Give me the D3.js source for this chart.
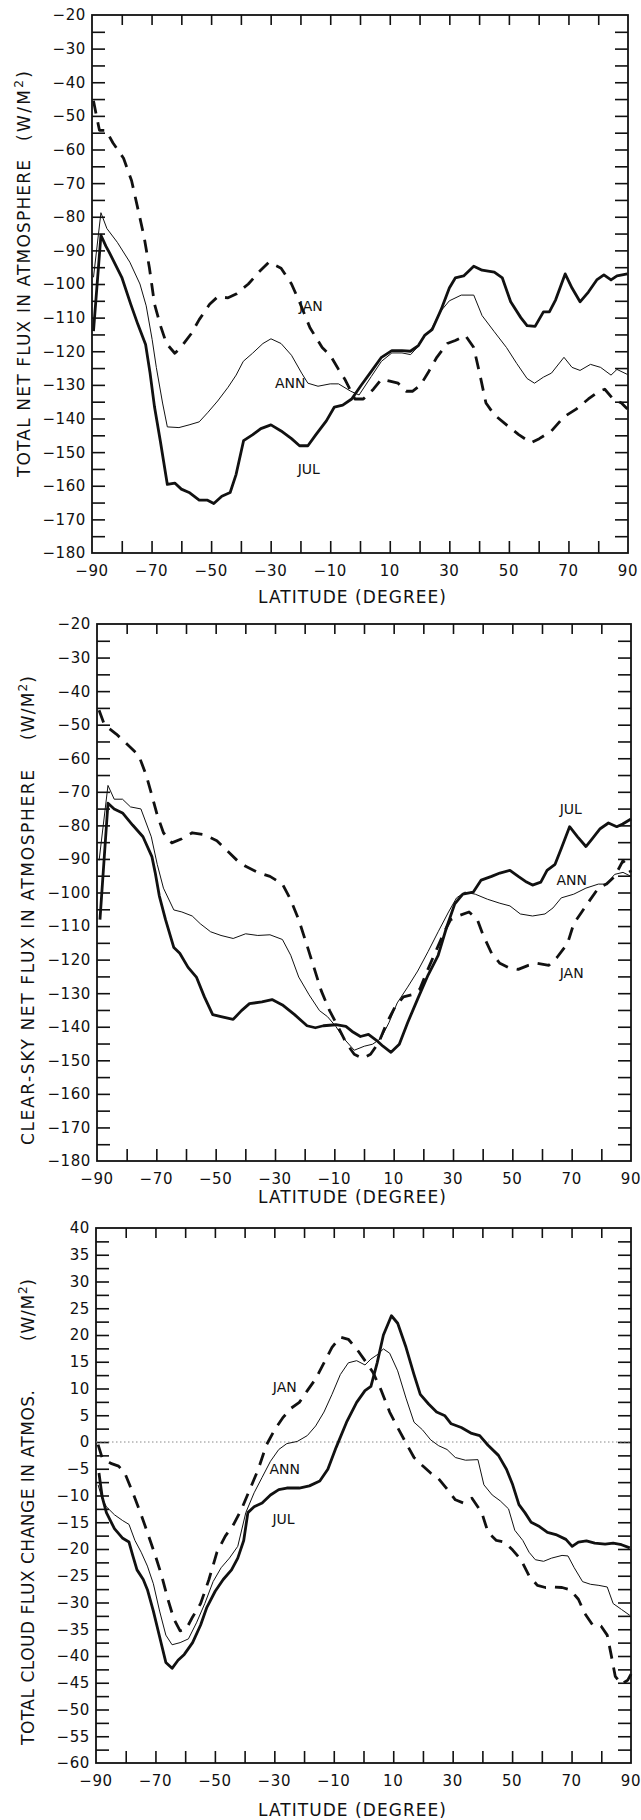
<!DOCTYPE html>
<html>
<head>
<meta charset="utf-8">
<script src="https://cdn.jsdelivr.net/npm/d3@7"></script>
<style>
  html, body { margin: 0; padding: 0; background: #fff; }
  svg { display: block; }
</style>
</head>
<body>
<svg id="fig" width="641" height="1820"></svg>
<script>
// ---------- axis tick values ----------
const latLabels = [-90, -70, -50, -30, -10, 10, 30, 50, 70, 90];
const netFluxLabels = [-20, -30, -40, -50, -60, -70, -80, -90, -100, -110, -120, -130, -140, -150, -160, -170, -180];
const cloudLabels = [40, 35, 30, 25, 20, 15, 10, 5, 0, -5, -10, -15, -20, -25, -30, -35, -40, -45, -50, -55, -60];

// ---------- total net flux in atmosphere: [latitude, W/m2] ----------
const totalJul = [[-89.5,-114],[-87,-85.5],[-85.3,-88.8],[-84.2,-90.6],[-80,-98],[-77,-106],[-74.6,-112],[-72,-118],[-70.5,-126.5],[-69,-136.6],[-67,-147],[-64.7,-159.6],[-62.2,-159.2],[-60,-161],[-57.4,-162],[-54,-164.3],[-51.2,-164.3],[-49.1,-165.3],[-46.4,-163.1],[-43.6,-162],[-41.6,-156.6],[-39.1,-146.6],[-36,-144.8],[-33.3,-143],[-29.9,-141.9],[-26.5,-143.7],[-23,-146],[-20.3,-148.1],[-17.5,-148.1],[-14.8,-144.8],[-11.3,-140.7],[-8.6,-136.6],[-5.8,-136],[-2.8,-134.2],[0.4,-130.1],[3.8,-126],[7.2,-121.8],[10.7,-119.8],[14.1,-119.8],[16.9,-120],[19.6,-118.3],[21.7,-115.3],[24.2,-113.6],[27.2,-107.7],[30,-101.2],[32,-98.2],[34.8,-97.6],[38.2,-94.7],[41,-95.9],[45.1,-96.5],[47.8,-98.2],[50.6,-105.3],[54,-110],[56.1,-112.4],[58.8,-112.6],[61.6,-108.3],[63.6,-108.3],[65.7,-104.7],[68.9,-97],[71.2,-101.2],[73.9,-105.3],[76.7,-102.4],[79.5,-98.8],[81.9,-97.3],[84.3,-98.8],[86.3,-97.6],[89.8,-97]];
const totalAnn = [[-89.5,-98],[-87,-78.8],[-85,-83.5],[-81.5,-87.6],[-77.3,-93.5],[-73.9,-100],[-71.8,-106.5],[-69.8,-116.5],[-68.4,-124.8],[-66.3,-135.4],[-64.7,-142.5],[-60.8,-142.7],[-57.4,-141.9],[-54,-141],[-51.2,-138.3],[-47.8,-134.8],[-44.3,-130.7],[-41.6,-127.1],[-39.2,-123],[-36.1,-120.6],[-32.6,-117.7],[-29.9,-116.3],[-26.5,-117.7],[-23,-121.2],[-19.6,-126.5],[-17.5,-129.5],[-14.1,-130.4],[-10,-129.7],[-7.2,-129.7],[-3.1,-131.9],[-0.3,-133],[3.8,-127.5],[7.2,-123],[10.7,-120.5],[14.1,-120.5],[17,-121],[19.6,-118.5],[21.7,-115.5],[24.2,-113],[27.2,-108],[30,-105],[34,-103.3],[38.2,-103.3],[41,-109.4],[45.1,-114.2],[49.2,-118.9],[52.6,-123.6],[56.1,-128.1],[58.6,-129.5],[61.6,-127.7],[64.3,-126.5],[68.5,-121.8],[71.2,-124.8],[73.9,-125.7],[77.4,-123.9],[80.8,-124.8],[84.3,-127.1],[86.3,-125.4],[89.8,-126.9]];
const totalJan = [[-89.5,-45.5],[-88.5,-50],[-87.5,-54.3],[-85.3,-54.3],[-83,-58],[-79.4,-62.6],[-76.7,-69.3],[-74.6,-77.6],[-72.5,-86],[-70.7,-95.3],[-69,-106],[-67,-112.4],[-65,-117.7],[-62.2,-120.6],[-60.2,-118.9],[-56.7,-114.8],[-54,-110.6],[-50.5,-106],[-47.8,-103.8],[-44.3,-104.1],[-41.6,-103],[-37.5,-100],[-34,-96.5],[-30.6,-93.5],[-26.5,-95.3],[-23,-100],[-20,-106],[-16.8,-113],[-12.7,-118.9],[-10,-121.2],[-7.2,-125.4],[-5.1,-128.3],[-1.7,-134.2],[1.1,-134.2],[4.5,-131.3],[7.2,-128.3],[10,-128.9],[12.8,-129.5],[15.5,-131.9],[17.6,-131.9],[20.3,-130.1],[23.1,-126],[25.8,-121.8],[29.3,-117.7],[32,-116.8],[35.4,-115.3],[38.2,-118.9],[40.3,-127.1],[42.3,-135.4],[45.1,-138.9],[49.2,-141.9],[53.3,-144.8],[57.4,-147.2],[60.2,-146],[64.3,-143.7],[68.5,-139.5],[72.6,-137.2],[76.7,-134.2],[80.2,-131.9],[82.2,-131.3],[85,-134.2],[87.8,-135.4],[89.8,-137.2]];

// ---------- clear-sky net flux in atmosphere ----------
const clearJul = [[-89,-108.1],[-86.3,-73.4],[-84.2,-75.1],[-81.4,-76.3],[-78,-79.9],[-74.5,-83.4],[-71.5,-89.3],[-70.4,-94],[-69,-101],[-66.9,-108.1],[-64.1,-116.4],[-62.1,-118.1],[-59.3,-122.3],[-56.5,-125.2],[-53.8,-131.1],[-51,-136.4],[-48.2,-137],[-44.1,-137.8],[-41.3,-135.2],[-38.6,-133.1],[-34.4,-132.6],[-31,-131.9],[-27.5,-133.5],[-23.4,-136.4],[-19.2,-139.7],[-16.4,-140.3],[-13.7,-139.7],[-9.5,-139.4],[-6.1,-139.9],[-4,-141.4],[-1.2,-142.9],[1.5,-142.3],[4.3,-144.1],[6.4,-145.8],[9.1,-147.6],[11.9,-145.2],[14.7,-138.8],[18.1,-131.7],[21.6,-124.6],[25,-118.7],[27.8,-110.5],[30.6,-103.4],[33.3,-100.5],[36.8,-99.9],[39.5,-96.3],[43,-95.2],[45.8,-94.2],[49.2,-93.4],[52,-95.2],[54.8,-96.9],[56.8,-97.8],[59.6,-96.9],[61.7,-93.4],[64.4,-91.6],[66.5,-86.9],[69.3,-80.4],[72,-83.4],[74.8,-86.3],[76.9,-84],[79.6,-81],[82.4,-79.3],[85.2,-80.4],[87.2,-79.6],[90,-78.1]];
const clearAnn = [[-89.3,-90.5],[-86.3,-68.1],[-84.2,-72.2],[-81.4,-72.2],[-78.7,-74.5],[-75.2,-75.1],[-71.7,-83.4],[-69.7,-91.6],[-67.6,-98.7],[-64.1,-105.2],[-61.4,-105.8],[-57.9,-107],[-55.2,-109.3],[-51.7,-111.7],[-48.2,-112.8],[-44.1,-113.7],[-39.9,-112.3],[-35.8,-112.8],[-31.7,-112.6],[-27.5,-114],[-24.7,-118.7],[-22,-125.2],[-18.5,-130.5],[-15,-135.2],[-12.3,-137],[-9.5,-139.9],[-6.8,-143.5],[-3.3,-147],[0.1,-145.8],[2.9,-145.2],[5.7,-143.5],[8.4,-138.8],[11.2,-132.9],[14.7,-128.2],[18.1,-123.4],[21.6,-117.6],[25,-111.7],[28.5,-105.8],[31.2,-101.6],[34,-99.9],[37.5,-100.5],[41.6,-102],[45.8,-103.2],[49.2,-104],[52.7,-106.4],[56.8,-107],[61,-106.4],[63.7,-104.6],[66.5,-101.6],[70.7,-100.5],[74.8,-98.7],[79,-97.5],[81.7,-97.5],[84.5,-94.6],[87.3,-94],[90,-95.2]];
const clearJan = [[-89.3,-45.7],[-87.5,-50],[-83.5,-52.8],[-81.4,-54.5],[-75.9,-59.2],[-73.4,-65.1],[-71.7,-70.4],[-69.7,-76.9],[-67.6,-82.2],[-64.8,-85.2],[-61.4,-84],[-57.9,-82.2],[-53.8,-82.8],[-49.6,-84.6],[-45.5,-88.1],[-42.7,-90.5],[-39.9,-92.2],[-35.8,-94],[-31.7,-95.2],[-27.5,-97.5],[-24.7,-102.2],[-22,-108.1],[-19.2,-115.8],[-17.1,-121.7],[-14.4,-129.3],[-11.6,-135.2],[-8.8,-139.9],[-6.1,-144.7],[-3.3,-148.2],[-0.5,-149.4],[2.2,-148.2],[5,-144.7],[7.7,-138.8],[10.5,-134],[13.3,-131.1],[16,-130.5],[18.8,-128.8],[21,-124],[23.6,-118.7],[27.1,-111.7],[29.2,-108.1],[32,-106.9],[35.4,-105.8],[38.2,-108.1],[40.2,-112.8],[43,-118.1],[45.8,-121.1],[48.5,-122.3],[52,-122.9],[55.4,-121.7],[58.2,-121.1],[62.3,-121.7],[65.1,-119.3],[68.6,-115.2],[70.7,-109.3],[73.4,-105.8],[76.2,-102.2],[79,-98.7],[81.7,-97.5],[84.5,-95.2],[87.3,-90.5],[90,-94]];

// ---------- total cloud flux change in atmosphere ----------
const cloudJul = [[-89,-5.8],[-87.9,-10.3],[-86.5,-13.2],[-83.8,-16.2],[-81,-18],[-78.9,-18.7],[-77.6,-21.3],[-76.2,-23.9],[-74.1,-25.7],[-72.7,-27.6],[-70.7,-31.6],[-68.6,-36.4],[-66.5,-41.2],[-64.4,-42.3],[-62.4,-40.8],[-60.3,-39.7],[-57.5,-37.5],[-54.8,-34.2],[-52.7,-30.9],[-49.9,-27.9],[-47.2,-25.7],[-44.4,-23.9],[-42.3,-21.7],[-40.3,-18.4],[-38.9,-13.2],[-36.8,-12.1],[-34.1,-11.4],[-31.3,-9.9],[-28.5,-8.9],[-25.8,-8.6],[-21.6,-8.6],[-18.2,-8.2],[-14.7,-7.3],[-12,-5.1],[-9.2,-1],[-5.7,3.7],[-2.3,7.4],[0.5,9.6],[2.5,10.4],[4.6,14.8],[6.7,20],[9.4,23.6],[11.5,22.2],[14.3,17.7],[17,12.6],[19.1,8.9],[21.9,7.1],[24.6,5.6],[27.4,4.9],[29.5,3.4],[32.9,2.7],[36.4,1.6],[39.1,1.2],[41.9,-0.6],[45.4,-2.5],[48.1,-5.1],[50.2,-8],[52.3,-11.7],[54.3,-13.2],[56.4,-15],[59.2,-15.8],[61.9,-16.9],[64.7,-17.3],[68.1,-18.2],[70.2,-19.5],[72.3,-18.7],[75,-18.5],[77.8,-18.9],[81.3,-19.1],[84,-18.9],[86.8,-19.2],[89.6,-19.8]];
const cloudAnn = [[-89.3,-8],[-88,-10.5],[-86.5,-12.1],[-83.8,-13.6],[-81,-14.7],[-78.9,-15.4],[-76.9,-18.4],[-74.8,-20.6],[-72.7,-23.2],[-70.7,-26.5],[-68.6,-31.6],[-66.5,-36.1],[-64.4,-37.9],[-61.7,-37.5],[-58.9,-36.8],[-56.2,-33.8],[-53.4,-30.2],[-50.6,-26.1],[-47.9,-23.5],[-45.1,-21.7],[-42.3,-19.5],[-39.6,-13.2],[-36.8,-9.5],[-34.1,-6.6],[-31.3,-3.6],[-28.5,-1.4],[-25.8,-0.3],[-22.3,0.1],[-18.9,1.2],[-16.1,3],[-13.3,5.6],[-10.6,8.9],[-7.8,12.6],[-5.1,14.8],[-2.3,15.2],[0.5,14.4],[2.5,15.5],[4.6,16.3],[6.7,17.4],[8.8,16.6],[11.5,13.3],[14.3,8.2],[17,3.7],[19.8,2.3],[22.6,0.4],[25.3,-0.7],[28.1,-1.4],[30.9,-2.9],[34.3,-3.4],[38.5,-3.3],[40.5,-8],[43.3,-9.9],[46,-11],[48.8,-12.5],[50.9,-16.5],[53.6,-18.4],[55.7,-20.6],[57.8,-22],[60.6,-22.3],[63.3,-21.7],[66.8,-21.2],[68.8,-21.3],[70.9,-23.5],[73.7,-26.1],[76.4,-26.6],[79.2,-26.8],[82,-27.1],[84,-30.2],[86.8,-31.3],[89.6,-32.4]];
const cloudJan = [[-89.3,-0.5],[-87.9,-3],[-85,-4],[-82.4,-4.5],[-80.3,-5.8],[-77.6,-9.5],[-74.8,-13.6],[-72.7,-16.9],[-70,-21.3],[-67.9,-25],[-65.8,-29.4],[-63.8,-33.1],[-61.7,-35.3],[-59.6,-34.9],[-57.5,-32.7],[-54.8,-30.2],[-52,-25.7],[-49.3,-20.6],[-46.5,-17.6],[-43.7,-15.4],[-41,-12.5],[-38.2,-8.8],[-35.4,-5.1],[-32.7,-0.6],[-29.9,2.3],[-27.2,4.5],[-24.4,6.3],[-21.6,7.4],[-18.9,9.6],[-16.1,11.8],[-13.3,14.8],[-10.6,17.7],[-7.8,19.6],[-5.1,19.2],[-2.3,17.4],[0.5,15.2],[3.2,13],[6,9.6],[8.8,5.6],[11.5,2.7],[14.3,-0.2],[17,-2.9],[19.8,-4.4],[22.6,-5.8],[25.3,-6.9],[28.1,-8.8],[30.9,-10.8],[33.6,-11.4],[36.5,-10.5],[39.8,-13.2],[41.9,-16.9],[44.7,-18.4],[47.4,-18.7],[50.2,-20.2],[53,-22],[55.7,-25],[58.5,-26.8],[61.2,-27.2],[64,-27.1],[66.8,-27.2],[69.5,-27.6],[72.3,-29.4],[74.4,-32],[77.1,-34.2],[79.9,-34.4],[82,-36.1],[83.3,-39.7],[84.7,-43.8],[86.8,-45.3],[88.9,-44.5],[90,-43.4]];

// ---------- drawing ----------
const FONT = "'DejaVu Sans', 'Liberation Sans', sans-serif";
const INK = "#111";
const svg = d3.select("#fig");

const styles = {
  jul: { width: 2.8, dash: null },
  ann: { width: 1.0, dash: null },
  jan: { width: 2.8, dash: "13,9" }
};

const panels = [
  {
    box: { l: 92, r: 628, t: 15, b: 553 },
    yDomain: [-180, -20], yLabels: netFluxLabels, yTickStep: 5,
    title: "TOTAL NET FLUX IN ATMOSPHERE", titleSpan: [477, 317], unitSpan: [141, 70], titleX: 30,
    xTitleY: 603,
    series: { ann: totalAnn, jul: totalJul, jan: totalJan },
    notes: [["JAN", -16.5, -106.5], ["ANN", -23.4, -129.5], ["JUL", -17.2, -154.9]],
    zero: false
  },
  {
    box: { l: 97, r: 631, t: 624, b: 1161 },
    yDomain: [-180, -20], yLabels: netFluxLabels, yTickStep: 5,
    title: "CLEAR-SKY NET FLUX IN ATMOSPHERE", titleSpan: [1145, 375], unitSpan: [740, 64], titleX: 34,
    xTitleY: 1203,
    series: { ann: clearAnn, jul: clearJul, jan: clearJan },
    notes: [["JUL", 69.7, -75.1], ["ANN", 70, -96.3], ["JAN", 70, -124]],
    zero: false
  },
  {
    box: { l: 96, r: 631, t: 1228, b: 1763 },
    yDomain: [-60, 40], yLabels: cloudLabels, yTickStep: 2.5,
    title: "TOTAL CLOUD FLUX CHANGE IN ATMOS.", titleSpan: [1745, 355], unitSpan: [1341, 62], titleX: 34,
    xTitleY: 1816,
    series: { ann: cloudAnn, jul: cloudJul, jan: cloudJan },
    notes: [["JAN", -26.5, 10.2], ["ANN", -26.5, -5], ["JUL", -26.9, -14.3]],
    zero: true
  }
];

panels.forEach(p => {
  const { l, r, t, b } = p.box;
  const x = d3.scaleLinear().domain([-90, 90]).range([l, r]);
  const y = d3.scaleLinear().domain(p.yDomain).range([b, t]);
  const g = svg.append("g");

  // inner tick marks on all four sides
  const xTicks = d3.range(-80, 90, 10);
  const nY = Math.round((p.yDomain[1] - p.yDomain[0]) / p.yTickStep);
  const yTicks = d3.range(1, nY).map(i => p.yDomain[0] + i * p.yTickStep);

  const tickAxis = (axis, tr) => {
    const a = g.append("g").attr("transform", tr).call(axis);
    a.select(".domain").remove();
    a.selectAll("line").attr("stroke", INK).attr("stroke-width", 1.6);
    a.selectAll("text").remove();
  };
  tickAxis(d3.axisBottom(x).tickValues(xTicks).tickSize(-12), `translate(0,${b})`);
  tickAxis(d3.axisTop(x).tickValues(xTicks).tickSize(-10), `translate(0,${t})`);
  tickAxis(d3.axisLeft(y).tickValues(yTicks).tickSize(-13), `translate(${l},0)`);
  tickAxis(d3.axisRight(y).tickValues(yTicks).tickSize(-13), `translate(${r},0)`);

  // frame
  g.append("rect").attr("x", l).attr("y", t).attr("width", r - l).attr("height", b - t)
    .attr("fill", "none").attr("stroke", INK).attr("stroke-width", 1.8);

  // zero reference line
  if (p.zero) {
    g.append("line").attr("x1", l).attr("x2", r).attr("y1", y(0)).attr("y2", y(0))
      .attr("stroke", "#888").attr("stroke-width", 1).attr("stroke-dasharray", "1.5,2.5");
  }

  // tick labels
  g.selectAll(".ylab").data(p.yLabels).join("text")
    .attr("x", l - 6).attr("y", d => y(d)).attr("dy", "0.36em")
    .attr("text-anchor", "end").attr("font-family", FONT).attr("font-size", 15)
    .attr("letter-spacing", 0.6).attr("fill", INK)
    .text(d => d < 0 ? "\u2212" + Math.abs(d) : d);

  g.selectAll(".xlab").data(latLabels).join("text")
    .attr("x", d => x(d)).attr("y", b + 23)
    .attr("text-anchor", "middle").attr("font-family", FONT).attr("font-size", 15)
    .attr("letter-spacing", 0.6).attr("fill", INK)
    .text(d => d < 0 ? "\u2212" + Math.abs(d) : d);

  // axis titles
  g.append("text").attr("x", 258).attr("y", p.xTitleY)
    .attr("font-family", FONT).attr("font-size", 17).attr("fill", INK)
    .attr("textLength", 188).attr("lengthAdjust", "spacing")
    .text("LATITUDE (DEGREE)");

  g.append("text")
    .attr("transform", `translate(${p.titleX},${p.titleSpan[0]}) rotate(-90)`)
    .attr("font-family", FONT).attr("font-size", 17).attr("fill", INK)
    .attr("textLength", p.titleSpan[1]).attr("lengthAdjust", "spacing")
    .text(p.title);

  const unit = g.append("text")
    .attr("transform", `translate(${p.titleX},${p.unitSpan[0]}) rotate(-90)`)
    .attr("font-family", FONT).attr("font-size", 17).attr("fill", INK)
    .attr("textLength", p.unitSpan[1]).attr("lengthAdjust", "spacing");
  unit.append("tspan").text("(W/M");
  unit.append("tspan").attr("dy", -7).attr("font-size", 12).text("2");
  unit.append("tspan").attr("dy", 7).text(")");

  // curves
  const line = d3.line().x(d => x(d[0])).y(d => y(d[1])).curve(d3.curveLinear);
  Object.entries(p.series).forEach(([key, data]) => {
    const s = styles[key];
    g.append("path").datum(data).attr("d", line)
      .attr("fill", "none").attr("stroke", INK)
      .attr("stroke-width", s.width)
      .attr("stroke-linejoin", "round").attr("stroke-linecap", "butt")
      .attr("stroke-dasharray", s.dash);
  });

  // curve labels
  g.selectAll(".note").data(p.notes).join("text")
    .attr("x", d => x(d[1])).attr("y", d => y(d[2])).attr("dy", "0.36em")
    .attr("text-anchor", "middle").attr("font-family", FONT).attr("font-size", 14)
    .attr("fill", INK).text(d => d[0]);
});
</script>
</body>
</html>
